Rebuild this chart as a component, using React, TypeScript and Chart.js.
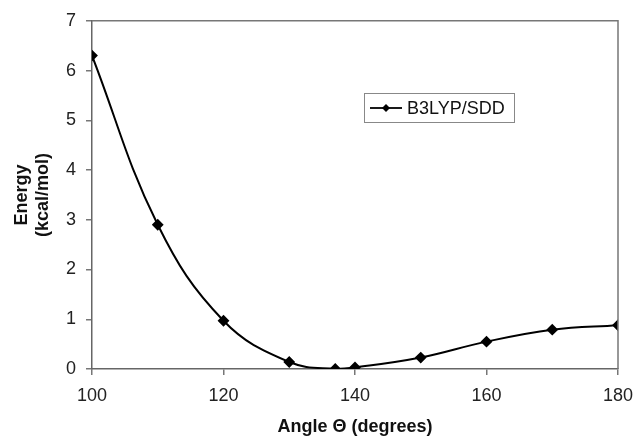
import React, { useEffect, useRef } from "react";
import { Chart, registerables } from "chart.js";

Chart.register(...registerables);

const angles = [100, 110, 120, 130, 137, 140, 150, 160, 170, 180];
const energies = [6.3, 2.9, 0.97, 0.14, 0.0, 0.03, 0.23, 0.55, 0.79, 0.88];
const seriesLabel = "B3LYP/SDD";
const xTitle = "Angle \u0398 (degrees)";
const yTitle = ["Energy", "(kcal/mol)"];

const FONT = "'Liberation Sans', Arial, sans-serif";

const framePlugin = {
  id: "frameAndLegend",
  afterDraw(chart: any) {
    const { ctx, chartArea } = chart;
    ctx.save();
    ctx.strokeStyle = "#777";
    ctx.lineWidth = 1.5;
    ctx.beginPath();
    ctx.moveTo(chartArea.left, chartArea.top);
    ctx.lineTo(chartArea.right, chartArea.top);
    ctx.lineTo(chartArea.right, chartArea.bottom);
    ctx.stroke();

    const bx = 364, by = 93, bw = 150, bh = 29;
    ctx.fillStyle = "#fff";
    ctx.fillRect(bx, by, bw, bh);
    ctx.strokeStyle = "#888";
    ctx.lineWidth = 1;
    ctx.strokeRect(bx + 0.5, by + 0.5, bw, bh);
    const cy = by + bh / 2 + 0.5;
    ctx.strokeStyle = "#000";
    ctx.lineWidth = 1.8;
    ctx.beginPath();
    ctx.moveTo(bx + 6, cy);
    ctx.lineTo(bx + 38, cy);
    ctx.stroke();
    ctx.fillStyle = "#000";
    ctx.beginPath();
    const mx = bx + 22, r = 4;
    ctx.moveTo(mx, cy - r);
    ctx.lineTo(mx + r, cy);
    ctx.lineTo(mx, cy + r);
    ctx.lineTo(mx - r, cy);
    ctx.closePath();
    ctx.fill();
    ctx.font = `18px ${FONT}`;
    ctx.textBaseline = "middle";
    ctx.fillStyle = "#111";
    ctx.fillText(chart.data.datasets[0].label, bx + 43, cy + 1);
    ctx.restore();
  },
};

export default function App() {
  const ref = useRef<HTMLCanvasElement>(null);
  useEffect(() => {
    const chart = new Chart(ref.current!, {
      type: "line",
      data: {
        datasets: [
          {
            label: seriesLabel,
            data: angles.map((a, i) => ({ x: a, y: energies[i] })),
            borderColor: "#000",
            backgroundColor: "#000",
            borderWidth: 2,
            pointStyle: "rectRot",
            pointRadius: 4.5,
            pointHoverRadius: 4.5,
            tension: 0.4,
            cubicInterpolationMode: "default",
            fill: false,
          },
        ],
      },
      options: {
        animation: false,
        responsive: false,
        maintainAspectRatio: false,
        layout: { padding: { left: 0, top: 20, right: 17, bottom: 0 } },
        plugins: { legend: { display: false }, tooltip: { enabled: false } },
        scales: {
          x: {
            type: "linear",
            min: 100,
            max: 180,
            ticks: {
              stepSize: 20,
              color: "#222",
              font: { family: FONT, size: 18 },
              padding: 10,
              maxRotation: 0,
            },
            grid: {
              display: true,
              drawOnChartArea: false,
              drawTicks: true,
              tickLength: 6,
              color: "#777",
              lineWidth: 1.5,
            },
            border: { display: true, color: "#666", width: 1.5 },
            title: {
              display: true,
              text: xTitle,
              color: "#111",
              font: { family: FONT, size: 18, weight: "bold", lineHeight: 1.0 },
              padding: { top: 0, bottom: 0 },
            },
            afterFit: (s: any) => {
              s.height = 67;
              s.paddingRight = 0;
              s.paddingLeft = 0;
            },
          },
          y: {
            min: 0,
            max: 7,
            ticks: {
              stepSize: 1,
              color: "#222",
              font: { family: FONT, size: 18 },
              padding: 10,
            },
            grid: {
              display: true,
              drawOnChartArea: false,
              drawTicks: true,
              tickLength: 6,
              color: "#777",
              lineWidth: 1.5,
            },
            border: { display: true, color: "#666", width: 1.5 },
            title: {
              display: true,
              text: yTitle,
              color: "#111",
              font: { family: FONT, size: 18, weight: "bold", lineHeight: 1.2 },
              padding: { top: 11, bottom: 0 },
            },
            afterFit: (s: any) => {
              s.width = 92;
            },
          },
        },
      },
      plugins: [framePlugin],
    } as any);
    return () => chart.destroy();
  }, []);
  return (
    <div style={{ position: "fixed", left: 0, top: 0, width: 635, height: 436, background: "#fff" }}>
      <canvas ref={ref} width={635} height={436} />
    </div>
  );
}
